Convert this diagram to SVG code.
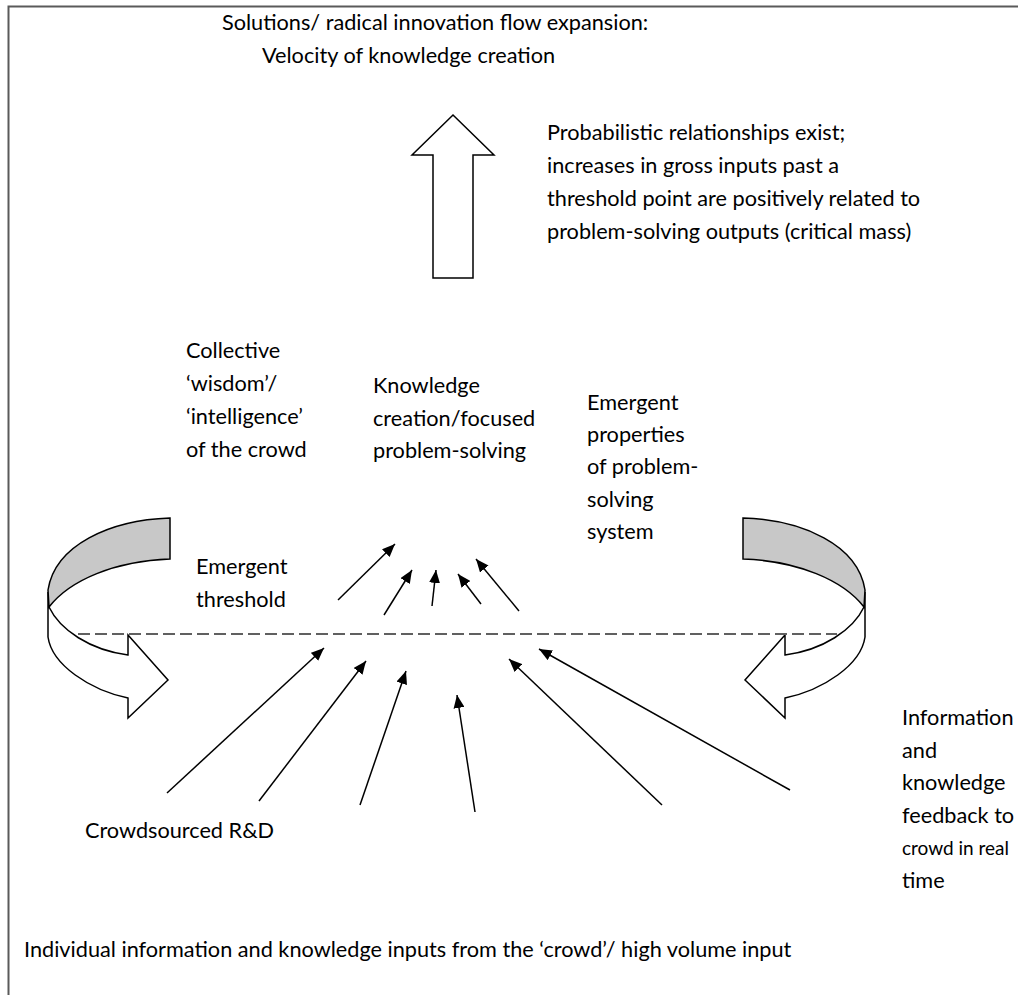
<svg xmlns="http://www.w3.org/2000/svg" width="1018" height="995" viewBox="0 0 1018 995">
<style>
.t{font-family:Lato,"Liberation Sans",sans-serif;font-size:21.7px;fill:#000}
.ol{fill:#fff;stroke:#000;stroke-width:1.5;stroke-linejoin:miter}
.band{fill:#c8c8c8;stroke:#000;stroke-width:1.5}
.c{stroke:#000;stroke-width:1.5;fill:none}
</style>
<defs>
<marker id="ah" markerUnits="userSpaceOnUse" markerWidth="13" markerHeight="11" refX="13" refY="5.5" orient="auto" viewBox="0 0 13 11">
<path d="M0,0 L13,5.5 L0,11 Z" fill="#000"/>
</marker>
<g id="curl">
<path class="ol" d="M49,607 C60,630 90,650 128,655 L128,635 L168,680 L128,718 L128,698 C90,690 52,665 48,637 L48,592 Z"/>
<path class="band" d="M170,518 C110,520 55,545 48,590 L49,607 C70,580 115,561 170,559 Z"/>
</g>
</defs>
<rect width="1018" height="995" fill="#fff"/>
<path d="M8.5,995 L8.5,6.5 L1018,6.5" fill="none" stroke="#5a5a5a" stroke-width="2"/>

<g id="title">
<text class="t" x="222" y="30">Solutions/ radical innovation flow expansion:</text>
<text class="t" x="262" y="63">Velocity of knowledge creation</text>
</g>
<g id="up-arrow">
<path class="ol" d="M453,115 L494,155 L473,155 L473,278 L433,278 L433,155 L412,155 Z"/>
</g>
<g id="probabilistic">
<text class="t" x="547" y="140">Probabilistic relationships exist;</text>
<text class="t" x="547" y="173">increases in gross inputs past a</text>
<text class="t" x="547" y="206">threshold point are positively related to</text>
<text class="t" x="547" y="239">problem-solving outputs (critical mass)</text>
</g>
<g id="collective">
<text class="t" x="186" y="358">Collective</text>
<text class="t" x="186" y="391">‘wisdom’/</text>
<text class="t" x="186" y="424">‘intelligence’</text>
<text class="t" x="186" y="457">of the crowd</text>
</g>
<g id="knowledge">
<text class="t" x="373" y="393">Knowledge</text>
<text class="t" x="373" y="426">creation/focused</text>
<text class="t" x="373" y="458">problem-solving</text>
</g>
<g id="emergent-properties">
<text class="t" x="587" y="410">Emergent</text>
<text class="t" x="587" y="442">properties</text>
<text class="t" x="587" y="474">of problem-</text>
<text class="t" x="587" y="507">solving</text>
<text class="t" x="587" y="539">system</text>
</g>
<g id="emergent-threshold">
<text class="t" x="196" y="574">Emergent</text>
<text class="t" x="196" y="607">threshold</text>
</g>
<g id="left-curved-arrow">
<use href="#curl"/>
</g>
<g id="right-curved-arrow">
<use href="#curl" transform="translate(913,0) scale(-1,1)"/>
</g>
<g id="threshold-line">
<line x1="78" y1="634" x2="837" y2="634" stroke="#606060" stroke-width="2" stroke-dasharray="12 5"/>
</g>
<g id="feedback">
<text class="t" x="902" y="725">Information</text>
<text class="t" x="902" y="758">and</text>
<text class="t" x="902" y="790">knowledge</text>
<text class="t" x="902" y="823">feedback to</text>
<text class="t" x="902" y="855" style="font-size:19px">crowd in real</text>
<text class="t" x="902" y="888">time</text>
</g>
<g id="crowdsourced">
<text class="t" x="85" y="838">Crowdsourced R&amp;D</text>
</g>
<g id="inputs">
<text class="t" x="24" y="957">Individual information and knowledge inputs from the ‘crowd’/ high volume input</text>
</g>
<g id="connectors">
<line class="c" marker-end="url(#ah)" x1="338" y1="600" x2="395" y2="544"/>
<line class="c" marker-end="url(#ah)" x1="384" y1="615" x2="412" y2="570"/>
<line class="c" marker-end="url(#ah)" x1="432" y1="606" x2="436" y2="570"/>
<line class="c" marker-end="url(#ah)" x1="481" y1="604" x2="458" y2="574"/>
<line class="c" marker-end="url(#ah)" x1="519" y1="611" x2="476" y2="559"/>
<line class="c" marker-end="url(#ah)" x1="167" y1="793" x2="324" y2="648"/>
<line class="c" marker-end="url(#ah)" x1="259" y1="801" x2="366" y2="661"/>
<line class="c" marker-end="url(#ah)" x1="360" y1="805" x2="406" y2="671"/>
<line class="c" marker-end="url(#ah)" x1="475" y1="812" x2="457" y2="695"/>
<line class="c" marker-end="url(#ah)" x1="662" y1="805" x2="509" y2="659"/>
<line class="c" marker-end="url(#ah)" x1="790" y1="790" x2="539" y2="649"/>
</g>
</svg>
